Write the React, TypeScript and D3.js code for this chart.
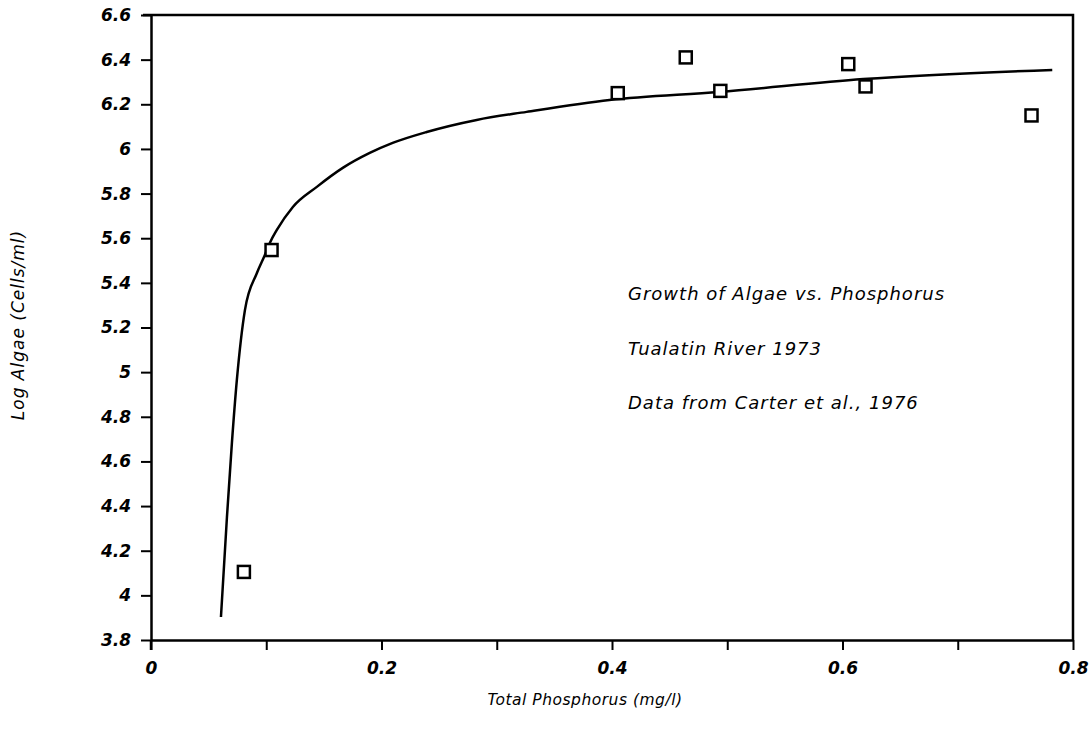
import { useEffect, useRef } from "react";
import * as d3 from "d3";

// measured points (open squares)
const phosphorus = [0.0806, 0.1046, 0.405, 0.464, 0.494, 0.605, 0.62, 0.764];
const logAlgae = [4.105, 5.547, 6.25, 6.41, 6.26, 6.38, 6.28, 6.15];

// fitted curve
const curveX = [
  0.0607, 0.0659, 0.0702, 0.0745, 0.0815, 0.0919, 0.0988, 0.1031, 0.1092,
  0.1231, 0.1439, 0.1664, 0.1898, 0.2097, 0.2392, 0.2826, 0.3259, 0.3978,
  0.4932, 0.618, 0.782,
];
const curveY = [
  3.903, 4.351, 4.683, 4.965, 5.278, 5.444, 5.525, 5.579, 5.637, 5.74, 5.83,
  5.915, 5.982, 6.027, 6.076, 6.13, 6.166, 6.219, 6.255, 6.313, 6.354,
];

const yTicks = [3.8, 4, 4.2, 4.4, 4.6, 4.8, 5, 5.2, 5.4, 5.6, 5.8, 6, 6.2, 6.4, 6.6];
const yTickLabels = ["3.8", "4", "4.2", "4.4", "4.6", "4.8", "5", "5.2", "5.4", "5.6", "5.8", "6", "6.2", "6.4", "6.6"];
const xTicks = [0, 0.1, 0.2, 0.3, 0.4, 0.5, 0.6, 0.7, 0.8];
const xTickLabels = ["0", "", "0.2", "", "0.4", "", "0.6", "", "0.8"];

const notes = [
  "Growth of Algae vs. Phosphorus",
  "Tualatin River 1973",
  "Data from Carter et al., 1976",
];

const width = 1091;
const height = 729;
const margin = { top: 15, right: 18, bottom: 89, left: 151 };
const font = "'DejaVu Sans', sans-serif";

export default function App() {
  const ref = useRef<SVGSVGElement>(null);

  useEffect(() => {
    const svg = d3.select(ref.current);
    svg.selectAll("*").remove();

    const x = d3.scaleLinear([0, 0.8], [margin.left, width - margin.right]);
    const y = d3.scaleLinear([3.8, 6.6], [height - margin.bottom, margin.top]);

    // top and right frame
    svg
      .append("path")
      .attr("d", `M${margin.left - 8},${y(6.6)}H${x(0.8)}V${y(3.8)}`)
      .attr("fill", "none")
      .attr("stroke", "#000")
      .attr("stroke-width", 2.5);

    const xAxis = d3
      .axisBottom(x)
      .tickValues(xTicks)
      .tickSize(10)
      .tickSizeOuter(0)
      .tickPadding(12)
      .tickFormat((d, i) => xTickLabels[i]);

    const yAxis = d3
      .axisLeft(y)
      .tickValues(yTicks)
      .tickSize(10)
      .tickSizeOuter(0)
      .tickPadding(10)
      .tickFormat((d, i) => yTickLabels[i]);

    const gx = svg
      .append("g")
      .attr("transform", `translate(0,${y(3.8)})`)
      .call(xAxis);
    const gy = svg
      .append("g")
      .attr("transform", `translate(${x(0)},0)`)
      .call(yAxis);

    [gx, gy].forEach((g) => {
      g.select(".domain").attr("stroke-width", 2.5);
      g.selectAll(".tick line").attr("stroke-width", 2);
      g.selectAll(".tick text")
        .attr("fill", "#000")
        .style("font-family", font)
        .style("font-size", "17px")
        .style("font-weight", "bold")
        .style("font-style", "italic");
    });

    // the y axis runs a little below the x axis
    svg
      .append("line")
      .attr("x1", x(0))
      .attr("x2", x(0))
      .attr("y1", y(3.8))
      .attr("y2", y(3.8) + 10)
      .attr("stroke", "#000")
      .attr("stroke-width", 2.5);

    const line = d3
      .line<number>()
      .x((d, i) => x(curveX[i]))
      .y((d) => y(d))
      .curve(d3.curveMonotoneX);

    svg
      .append("path")
      .datum(curveY)
      .attr("d", line)
      .attr("fill", "none")
      .attr("stroke", "#000")
      .attr("stroke-width", 2.5);

    const s = 12;
    svg
      .append("g")
      .selectAll("rect")
      .data(logAlgae)
      .join("rect")
      .attr("x", (d, i) => x(phosphorus[i]) - s / 2)
      .attr("y", (d) => y(d) - s / 2)
      .attr("width", s)
      .attr("height", s)
      .attr("fill", "#fff")
      .attr("stroke", "#000")
      .attr("stroke-width", 2.5);

    svg
      .append("g")
      .selectAll("text")
      .data(notes)
      .join("text")
      .attr("x", 628)
      .attr("y", (d, i) => 300 + i * 54.5)
      .style("font-family", font)
      .style("font-size", "18px")
      .style("letter-spacing", "1px")
      .style("font-style", "italic")
      .text((d) => d);

    svg
      .append("text")
      .attr("x", 585)
      .attr("y", 705)
      .attr("text-anchor", "middle")
      .style("font-family", font)
      .style("font-size", "15.5px")
      .style("letter-spacing", "0.5px")
      .style("font-style", "italic")
      .text("Total Phosphorus (mg/l)");

    svg
      .append("text")
      .attr("transform", "translate(24,325) rotate(-90)")
      .attr("text-anchor", "middle")
      .style("font-family", font)
      .style("font-size", "17px")
      .style("letter-spacing", "1px")
      .style("font-style", "italic")
      .text("Log Algae (Cells/ml)");
  }, []);

  return (
    <div style={{ position: "absolute", left: 0, top: 0, background: "#fff" }}>
      <svg ref={ref} width={width} height={height} />
    </div>
  );
}
